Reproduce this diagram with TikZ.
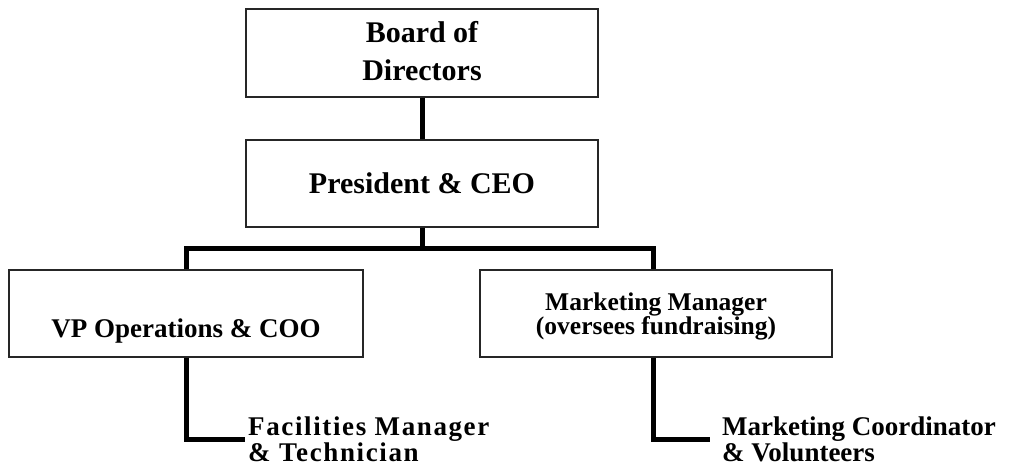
\documentclass[tikz,border=0pt]{standalone}
\usepackage{fontspec}
\setmainfont{Liberation Serif}
\begin{document}
\begin{tikzpicture}[x=1pt,y=-1pt,
  box/.style={draw=black!85, line width=1.3pt, minimum width=352pt, minimum height=87pt, inner sep=0pt, align=center},
  link/.style={line width=5pt},
  leaf/.style={anchor=west, align=left, inner ysep=0pt, font=\bfseries\fontsize{27}{20}\selectfont}]
\useasboundingbox (0,0) rectangle (1012,462);

\node[box, minimum height=88pt, font=\bfseries\fontsize{30}{38}\selectfont, text depth=5pt] (board) at (422,53) {Board of\\Directors};
\node[box, font=\bfseries\fontsize{30}{36}\selectfont] (pres) at (422,183.5) {President \& CEO};
\node[box, minimum width=354pt, font=\bfseries\fontsize{27}{30}\selectfont, text height=48pt, text depth=0pt] (vp) at (186,313.5) {VP Operations \& COO};
\node[box, font=\bfseries\fontsize{25.5}{24}\selectfont, text depth=0pt] (mm) at (656,313.5) {Marketing Manager\\(oversees fundraising)};

\node[leaf, inner xsep=3pt] (facil) at (245,439) {\addfontfeature{LetterSpace=6}Facilities Manager\\\addfontfeature{LetterSpace=6}\& Technician};
\node[leaf, inner xsep=12pt] (coord) at (710,439) {Marketing Coordinator\\\& Volunteers};

\coordinate (bus) at (422,249);
\draw[link] (board.south -| bus) -- (pres.north -| bus);
\draw[link] (pres.south -| bus) -- (bus);
\draw[link] (vp.north) |- (bus) -| ([xshift=-3pt]mm.north);
\draw[link] (vp.south) |- (facil.west);
\draw[link] ([xshift=-3pt]mm.south) |- (coord.west);
\end{tikzpicture}
\end{document}
